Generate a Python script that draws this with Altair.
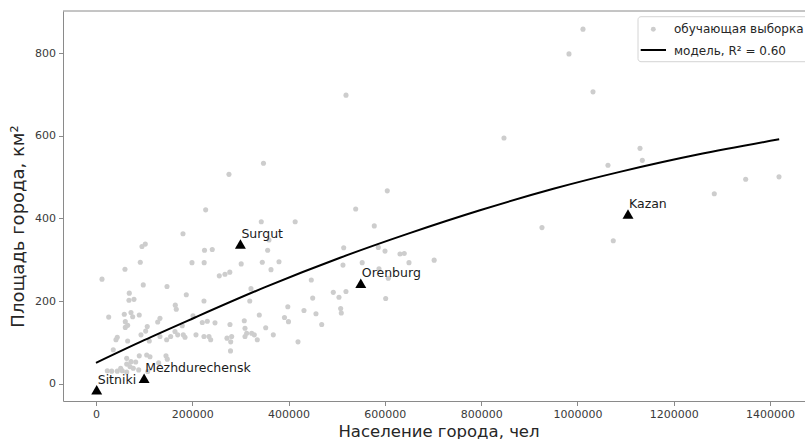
import altair as alt
import pandas as pd

# ---- training sample (population, area km²) ----
train_pop = [1011500, 982400, 1032300, 519300, 847400, 1129900, 1134700, 1063400, 347900, 276200,
             1418600, 1349400, 605000, 1284200, 227800, 539400, 343300, 413700, 578000, 926300,
             180700, 1074400, 359300, 102400, 95500, 514500, 586300, 600300, 225400, 241500,
             356600, 631400, 640300, 702400, 92000, 199400, 224700, 301600, 345400, 380100,
             513000, 552900, 650100, 60200, 277900, 363500, 12500, 256100, 267900, 587800,
             607100, 447200, 321900, 98200, 147500, 492900, 504700, 519200, 69200, 187600,
             78900, 68500, 224300, 319400, 450100, 601700, 164700, 166800, 398400, 508200,
             509500, 432000, 456900, 26400, 58800, 72700, 76200, 89900, 60900, 132900,
             128200, 201500, 220800, 231200, 247200, 339200, 391500, 399800, 278300, 308000,
             309500, 352500, 179200, 468800, 60900, 65800, 106500, 103200, 164100, 155100,
             169700, 181300, 184900, 132900, 146800, 207700, 224300, 234700, 238200, 272100,
             281800, 279800, 313000, 323400, 328800, 309500, 335000, 368300, 419600, 44200,
             41500, 110700, 65800, 93500, 279400, 35900, 105300, 112200, 89900, 145400,
             148100, 130200, 63800, 72700, 82500, 63800, 23500, 32600, 44200, 54600,
             63800, 77500, 88700, 107400, 51300, 70600]
train_area = [859, 799, 707, 699, 595, 570, 541, 529, 534, 507,
              501, 495, 467, 460, 421, 423, 392, 392, 382, 378,
              363, 346, 348, 338, 332, 329, 330, 321, 323, 325,
              323, 314, 315, 299, 294, 293, 293, 290, 294, 295,
              287, 293, 293, 277, 270, 276, 253, 261, 265, 278,
              255, 251, 230, 239, 235, 221, 209, 223, 219, 215,
              204, 202, 200, 200, 207, 206, 190, 180, 186, 182,
              171, 177, 169, 161, 168, 172, 162, 166, 150, 158,
              149, 164, 148, 151, 147, 166, 160, 150, 143, 152,
              134, 135, 140, 143, 136, 141, 138, 127, 126, 114,
              118, 118, 112, 114, 106, 118, 114, 114, 106, 110,
              114, 101, 122, 122, 118, 114, 106, 118, 101, 112,
              106, 103, 103, 118, 79, 82, 69, 65, 67, 67,
              59, 50, 61, 53, 52, 47, 31, 30, 30, 31,
              28, 37, 33, 29, 37, 41]

# ---- model curve readings ----
model_pop = [0, 100000, 205600, 350000, 507000, 650000, 797600, 950000, 1088000, 1250000, 1419000]
model_area = [50, 105, 160, 233, 305, 364, 420, 472, 513, 555, 592]

# ---- highlighted cities ----
city_names = ["Sitniki", "Mezhdurechensk", "Surgut", "Orenburg", "Kazan"]
city_pop = [1500, 100000, 300000, 550000, 1105000]
city_area = [-15, 13, 338, 243, 411]

x_ticks = [0, 200000, 400000, 600000, 800000, 1000000, 1200000, 1400000]
y_ticks = [0, 200, 400, 600, 800]

legend_labels = ["обучающая выборка", "модель, R² = 0.60"]

W, H = 742, 390
FONT = "DejaVu Sans"

train_df = pd.DataFrame({"pop": train_pop, "area": train_area})
model_df = pd.DataFrame({"pop": model_pop, "area": model_area})
city_df = pd.DataFrame({"name": city_names, "pop": city_pop, "area": city_area})

xscale = alt.Scale(domain=[-68500, 1472600], nice=False, zero=False)
yscale = alt.Scale(domain=[-42.4, 903], nice=False, zero=False)

xaxis = alt.Axis(values=x_ticks, format="d", title="Население города, чел",
                 titleX=375.5, titleY=35, titleBaseline="alphabetic", titleAlign="center",
                 titleAnchor="start")
yaxis = alt.Axis(values=y_ticks, format="d", title="Площадь города, км²",
                 titleAngle=270, titleX=-40, titleY=215, titleBaseline="alphabetic",
                 titleAlign="center", titleAnchor="start", titleFontSize=18)

points = alt.Chart(train_df).mark_circle(size=26, color="#cdcdcd", opacity=1).encode(
    x=alt.X("pop:Q", scale=xscale, axis=xaxis),
    y=alt.Y("area:Q", scale=yscale, axis=yaxis),
)

line = alt.Chart(model_df).mark_line(color="black", strokeWidth=2, interpolate="natural").encode(
    x=alt.X("pop:Q", scale=xscale),
    y=alt.Y("area:Q", scale=yscale),
)

tri = alt.Chart(city_df).mark_point(shape="triangle-up", filled=True, color="black",
                                    size=120, opacity=1).encode(
    x=alt.X("pop:Q", scale=xscale),
    y=alt.Y("area:Q", scale=yscale),
)

labels = alt.Chart(city_df).mark_text(align="left", baseline="alphabetic", dy=-6, dx=1,
                                      font=FONT, fontSize=12.5, color="#1a1a1a").encode(
    x=alt.X("pop:Q", scale=xscale),
    y=alt.Y("area:Q", scale=yscale),
    text="name:N",
)

one = alt.Data(values=[{"a": 1}])

top_spine = alt.Chart(one).mark_rule(color="#8a8a8a", strokeWidth=1).encode(
    x=alt.value(0), x2=alt.value(W), y=alt.value(0)
)

leg_box = alt.Chart(one).mark_rect(fill="white", stroke="#d0d0d0", strokeWidth=1,
                                   cornerRadius=3, opacity=0.9).encode(
    x=alt.value(575), x2=alt.value(760), y=alt.value(5.7), y2=alt.value(50.7)
)
leg_dot = alt.Chart(one).mark_circle(size=24, color="#cdcdcd", opacity=1).encode(
    x=alt.value(590.3), y=alt.value(18.3)
)
leg_line = alt.Chart(one).mark_rule(color="black", strokeWidth=2).encode(
    x=alt.value(577.7), x2=alt.value(603), y=alt.value(39)
)
leg_t1 = alt.Chart(one).mark_text(align="left", baseline="middle", font=FONT, fontSize=12,
                                  color="#262626", text=legend_labels[0]).encode(
    x=alt.value(611), y=alt.value(18)
)
leg_t2 = alt.Chart(one).mark_text(align="left", baseline="middle", font=FONT, fontSize=12,
                                  color="#262626", text=legend_labels[1]).encode(
    x=alt.value(611), y=alt.value(39.5)
)

chart = alt.layer(points, line, tri, labels, top_spine,
                  leg_box, leg_dot, leg_line, leg_t1, leg_t2).properties(
    width=W, height=H,
    autosize=alt.AutoSizeParams(type="none"),
    padding={"left": 63, "top": 11, "right": 0, "bottom": 38},
    background="white",
).configure_view(stroke=None).configure_axis(
    grid=False,
    labelFont=FONT, labelFontSize=11, labelColor="#3a3a3a",
    titleFont=FONT, titleFontSize=16.5, titleFontWeight="normal", titleColor="#262626",
    domainColor="#8a8a8a", domainWidth=1, tickColor="#8a8a8a", tickWidth=1,
    tickSize=4.5, labelPadding=3,
)

chart.save("out.html", embed_options={"renderer": "svg", "actions": False})
